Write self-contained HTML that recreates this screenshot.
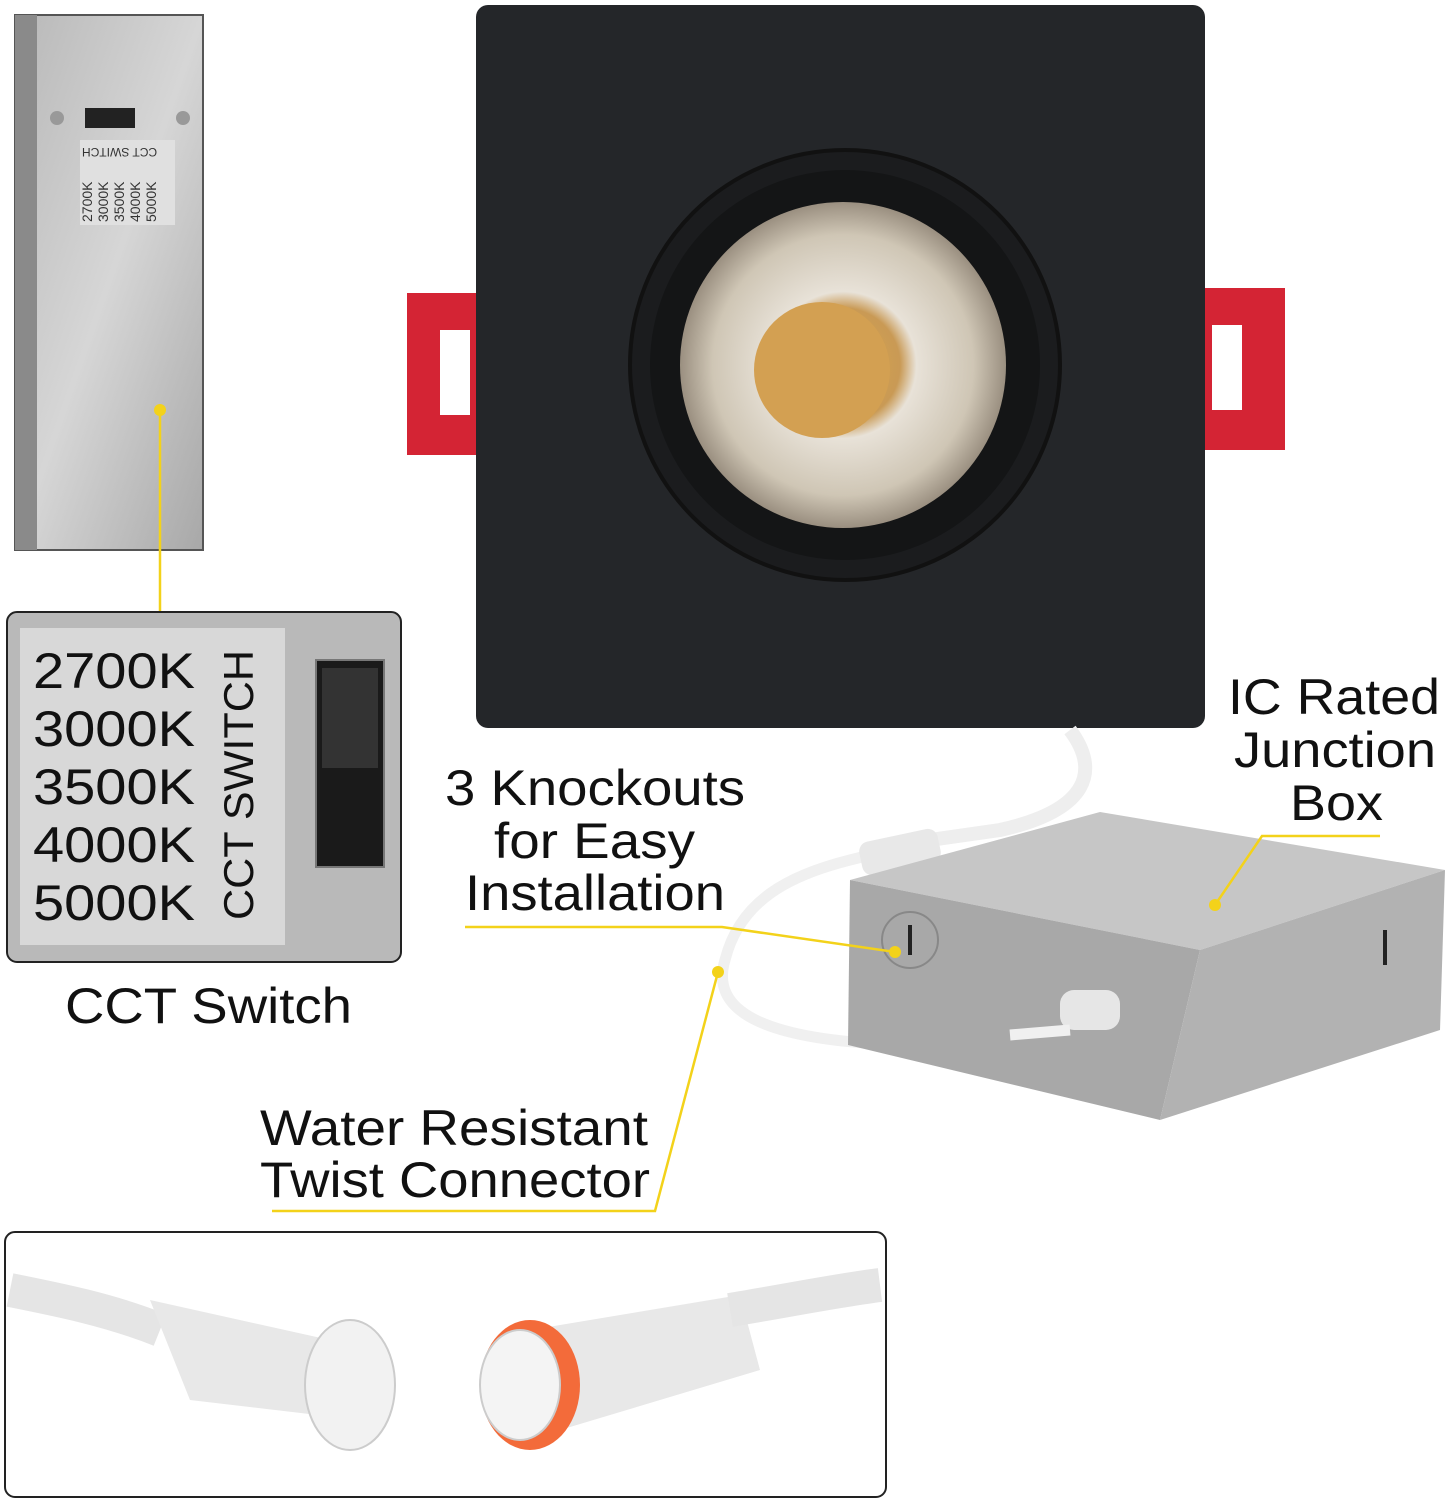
<!DOCTYPE html>
<html><head><meta charset="utf-8"><style>
html,body{margin:0;padding:0;background:#fff;}
svg{display:block;}
text{font-family:"Liberation Sans",sans-serif;}
</style></head><body>
<svg width="1446" height="1500" viewBox="0 0 1446 1500" xmlns="http://www.w3.org/2000/svg">
<defs>
<linearGradient id="metal" x1="0" y1="0" x2="1" y2="1">
<stop offset="0" stop-color="#b8b8b8"/><stop offset="0.5" stop-color="#d6d6d6"/><stop offset="1" stop-color="#a8a8a8"/>
</linearGradient>
<radialGradient id="lens" cx="0.5" cy="0.5" r="0.5">
<stop offset="0" stop-color="#d9a44a"/><stop offset="0.35" stop-color="#c99a55"/><stop offset="0.45" stop-color="#e8e2d8"/><stop offset="0.8" stop-color="#cfc6b5"/><stop offset="1" stop-color="#9a8f80"/>
</radialGradient>
</defs>
<rect x="15" y="15" width="188" height="535" fill="url(#metal)" stroke="#555" stroke-width="2"/>
<rect x="15" y="15" width="22" height="535" fill="#8a8a8a"/>
<rect x="80" y="140" width="95" height="85" fill="#e0e0e0"/>
<rect x="85" y="108" width="50" height="20" fill="#222"/>
<circle cx="57" cy="118" r="7" fill="#999"/><circle cx="183" cy="118" r="7" fill="#999"/>
<text transform="translate(92,222) rotate(-90)" font-size="14" fill="#333">2700K</text>
<text transform="translate(108,222) rotate(-90)" font-size="14" fill="#333">3000K</text>
<text transform="translate(124,222) rotate(-90)" font-size="14" fill="#333">3500K</text>
<text transform="translate(140,222) rotate(-90)" font-size="14" fill="#333">4000K</text>
<text transform="translate(156,222) rotate(-90)" font-size="14" fill="#333">5000K</text>
<text transform="translate(82,148) rotate(180)" font-size="12" fill="#333" text-anchor="end">CCT SWITCH</text>
<line x1="160" y1="410" x2="160" y2="612" stroke="#f3d21a" stroke-width="2.5"/>
<circle cx="160" cy="410" r="6" fill="#f3d21a"/>
<rect x="7" y="612" width="394" height="350" rx="10" fill="#b9b9b9" stroke="#222" stroke-width="2"/>
<rect x="20" y="628" width="265" height="317" fill="#d8d8d8"/>
<g font-size="50" fill="#111">
<text x="33" y="688" textLength="162" lengthAdjust="spacingAndGlyphs">2700K</text>
<text x="33" y="746" textLength="162" lengthAdjust="spacingAndGlyphs">3000K</text>
<text x="33" y="804" textLength="162" lengthAdjust="spacingAndGlyphs">3500K</text>
<text x="33" y="862" textLength="162" lengthAdjust="spacingAndGlyphs">4000K</text>
<text x="33" y="920" textLength="162" lengthAdjust="spacingAndGlyphs">5000K</text>
</g>
<text transform="translate(253,920) rotate(-90)" font-size="42" fill="#111" textLength="270" lengthAdjust="spacingAndGlyphs">CCT SWITCH</text>
<rect x="316" y="660" width="68" height="207" fill="#1a1a1a" stroke="#777" stroke-width="2"/>
<rect x="322" y="668" width="56" height="100" fill="#333"/>
<text x="65" y="1023" font-size="50" fill="#111" textLength="287" lengthAdjust="spacingAndGlyphs">CCT Switch</text>
<rect x="407" y="293" width="75" height="162" fill="#d42434"/>
<rect x="440" y="330" width="30" height="85" fill="#fff"/>
<rect x="1200" y="288" width="85" height="162" fill="#d42434"/>
<rect x="1212" y="325" width="30" height="85" fill="#fff"/>
<rect x="476" y="5" width="729" height="723" rx="12" fill="#242629"/>
<circle cx="845" cy="365" r="215" fill="#1b1c1e" stroke="#111" stroke-width="4"/>
<circle cx="845" cy="365" r="195" fill="#141516"/>
<circle cx="843" cy="365" r="163" fill="url(#lens)"/>
<circle cx="822" cy="370" r="68" fill="#d3a052"/>
<path d="M1070 730 C1100 770 1090 810 1000 830 L930 840" stroke="#eee" stroke-width="14" fill="none"/>
<path d="M930 840 L850 860 C790 875 740 900 725 960 C710 1010 760 1040 900 1045 L1070 1030" stroke="#f0f0f0" stroke-width="11" fill="none"/>
<rect x="860" y="835" width="80" height="34" rx="10" fill="#e8e8e8" transform="rotate(-12 900 852)"/>
<polygon points="850,880 1100,812 1445,870 1200,950" fill="#c6c6c6"/>
<polygon points="850,880 1200,950 1160,1120 848,1045" fill="#a8a8a8"/>
<polygon points="1200,950 1445,870 1440,1030 1160,1120" fill="#b2b2b2"/>
<circle cx="910" cy="940" r="28" fill="none" stroke="#888" stroke-width="2"/>
<rect x="908" y="925" width="4" height="30" fill="#222"/>
<rect x="1383" y="930" width="4" height="35" fill="#222"/>
<rect x="1060" y="990" width="60" height="40" rx="14" fill="#e6e6e6"/>
<path d="M1070 1030 L1010 1035" stroke="#f0f0f0" stroke-width="11"/>
<g font-size="50" fill="#111">
<text x="1228" y="714" textLength="212" lengthAdjust="spacingAndGlyphs">IC Rated</text>
<text x="1234" y="767" textLength="202" lengthAdjust="spacingAndGlyphs">Junction</text>
<text x="1290" y="820" textLength="93" lengthAdjust="spacingAndGlyphs">Box</text>
<text x="445" y="805" textLength="300" lengthAdjust="spacingAndGlyphs">3 Knockouts</text>
<text x="494" y="858" textLength="201" lengthAdjust="spacingAndGlyphs">for Easy</text>
<text x="465" y="910" textLength="260" lengthAdjust="spacingAndGlyphs">Installation</text>
<text x="260" y="1145" textLength="388" lengthAdjust="spacingAndGlyphs">Water Resistant</text>
<text x="260" y="1197" textLength="390" lengthAdjust="spacingAndGlyphs">Twist Connector</text>
</g>
<g stroke="#f3d21a" stroke-width="2.5" fill="none">
<polyline points="1380,836 1262,836 1215,905"/>
<polyline points="465,927 722,927 895,952"/>
<polyline points="272,1211 655,1211 718,972"/>
</g>
<circle cx="1215" cy="905" r="6" fill="#f3d21a"/>
<circle cx="895" cy="952" r="6" fill="#f3d21a"/>
<circle cx="718" cy="972" r="6" fill="#f3d21a"/>
<rect x="5" y="1232" width="881" height="265" rx="10" fill="#fff" stroke="#222" stroke-width="2"/>
<path d="M10 1290 C60 1300 110 1310 160 1330" stroke="#e5e5e5" stroke-width="34" fill="none"/>
<path d="M150 1300 L330 1340 L360 1420 L190 1400 Z" fill="#e8e8e8"/>
<ellipse cx="350" cy="1385" rx="45" ry="65" fill="#f2f2f2" stroke="#ccc" stroke-width="2"/>
<path d="M530 1330 L740 1295 L760 1370 L560 1430 Z" fill="#e8e8e8"/>
<path d="M730 1310 C790 1300 840 1290 880 1285" stroke="#e5e5e5" stroke-width="34" fill="none"/>
<ellipse cx="530" cy="1385" rx="50" ry="65" fill="#f36b3a"/>
<ellipse cx="520" cy="1385" rx="40" ry="55" fill="#f4f4f4" stroke="#ccc" stroke-width="2"/>
</svg>
</body></html>
